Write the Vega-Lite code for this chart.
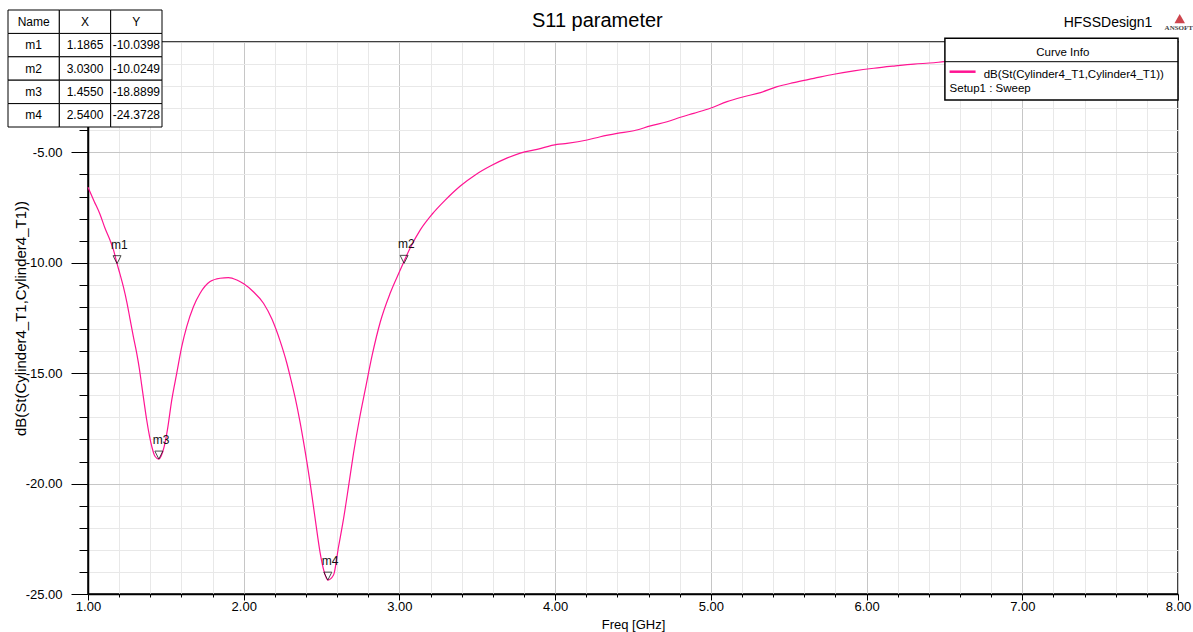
{
  "$schema": "https://vega.github.io/schema/vega-lite/v6.json",
  "width": 1090,
  "height": 552,
  "autosize": {"type": "none"},
  "padding": {"left": 88, "top": 42, "right": 15, "bottom": 38},
  "background": "white",
  "config": {
    "view": {"stroke": "black", "strokeWidth": 1.5},
    "font": "Liberation Sans",
    "text": {"font": "Liberation Sans", "color": "black"},
    "axis": {"labelOverlap": false, "labelFlush": false, "labelBound": false},
    "locale": {"number": {"decimal": ".", "thousands": ",", "grouping": [3], "currency": ["$", ""], "minus": "-"}}
  },
  "datasets": {
    "s11": [
      {"f": 1.0, "db": -6.58}, {"f": 1.04, "db": -7.22}, {"f": 1.077, "db": -7.8}, {"f": 1.11, "db": -8.45},
      {"f": 1.141, "db": -8.97}, {"f": 1.165, "db": -9.45}, {"f": 1.1865, "db": -10.04}, {"f": 1.205, "db": -10.5},
      {"f": 1.227, "db": -11.08}, {"f": 1.25, "db": -11.8}, {"f": 1.27, "db": -12.55}, {"f": 1.29, "db": -13.3},
      {"f": 1.313, "db": -14.1}, {"f": 1.33, "db": -14.8}, {"f": 1.345, "db": -15.55}, {"f": 1.36, "db": -16.3},
      {"f": 1.377, "db": -17.12}, {"f": 1.395, "db": -17.85}, {"f": 1.41, "db": -18.33}, {"f": 1.43, "db": -18.76},
      {"f": 1.455, "db": -18.89}, {"f": 1.47, "db": -18.75}, {"f": 1.49, "db": -18.3}, {"f": 1.51, "db": -17.57},
      {"f": 1.538, "db": -16.21}, {"f": 1.57, "db": -15.0}, {"f": 1.602, "db": -13.8}, {"f": 1.634, "db": -12.89},
      {"f": 1.677, "db": -11.99}, {"f": 1.72, "db": -11.38}, {"f": 1.784, "db": -10.85}, {"f": 1.848, "db": -10.7},
      {"f": 1.902, "db": -10.67}, {"f": 1.956, "db": -10.78}, {"f": 2.0, "db": -10.95}, {"f": 2.062, "db": -11.31},
      {"f": 2.127, "db": -11.83}, {"f": 2.181, "db": -12.55}, {"f": 2.234, "db": -13.55}, {"f": 2.277, "db": -14.55},
      {"f": 2.3, "db": -15.2}, {"f": 2.33, "db": -16.1}, {"f": 2.36, "db": -17.15}, {"f": 2.39, "db": -18.35},
      {"f": 2.425, "db": -19.9}, {"f": 2.46, "db": -21.65}, {"f": 2.49, "db": -23.1}, {"f": 2.515, "db": -23.95},
      {"f": 2.54, "db": -24.37}, {"f": 2.577, "db": -24.14}, {"f": 2.609, "db": -22.86}, {"f": 2.641, "db": -21.6},
      {"f": 2.673, "db": -20.14}, {"f": 2.705, "db": -18.63}, {"f": 2.742, "db": -17.12}, {"f": 2.78, "db": -15.76},
      {"f": 2.825, "db": -14.18}, {"f": 2.877, "db": -12.68}, {"f": 2.941, "db": -11.37}, {"f": 3.005, "db": -10.33},
      {"f": 3.069, "db": -9.33}, {"f": 3.134, "db": -8.51}, {"f": 3.211, "db": -7.79}, {"f": 3.294, "db": -7.16},
      {"f": 3.391, "db": -6.52}, {"f": 3.487, "db": -6.02}, {"f": 3.584, "db": -5.62}, {"f": 3.693, "db": -5.25},
      {"f": 3.776, "db": -5.03}, {"f": 3.884, "db": -4.86}, {"f": 4.012, "db": -4.64}, {"f": 4.076, "db": -4.59},
      {"f": 4.205, "db": -4.44}, {"f": 4.29, "db": -4.29}, {"f": 4.398, "db": -4.14}, {"f": 4.505, "db": -4.02},
      {"f": 4.612, "db": -3.8}, {"f": 4.719, "db": -3.61}, {"f": 4.805, "db": -3.41}, {"f": 4.89, "db": -3.23},
      {"f": 4.997, "db": -3.0}, {"f": 5.104, "db": -2.7}, {"f": 5.211, "db": -2.48}, {"f": 5.319, "db": -2.29},
      {"f": 5.426, "db": -2.02}, {"f": 5.533, "db": -1.84}, {"f": 5.662, "db": -1.65}, {"f": 5.79, "db": -1.46},
      {"f": 5.919, "db": -1.31}, {"f": 6.047, "db": -1.19}, {"f": 6.176, "db": -1.09}, {"f": 6.304, "db": -1.0},
      {"f": 6.433, "db": -0.94}, {"f": 6.497, "db": -0.89}, {"f": 6.75, "db": -0.82}, {"f": 7.0, "db": -0.76},
      {"f": 7.5, "db": -0.66}, {"f": 8.0, "db": -0.6}
    ],
    "markers": [
      {"Name": "m1", "X": 1.1865, "Y": -10.0398},
      {"Name": "m2", "X": 3.03, "Y": -10.0249},
      {"Name": "m3", "X": 1.455, "Y": -18.8899},
      {"Name": "m4", "X": 2.54, "Y": -24.3728}
    ],
    "tableHead": [{"col": "Name"}, {"col": "X"}, {"col": "Y"}]
  },
  "layer": [
    {
      "layer": [
        {
          "data": {"name": "s11"},
          "mark": {"type": "line", "color": "#ff1493", "strokeWidth": 1.2, "interpolate": "monotone"},
          "encoding": {
            "x": {
              "field": "f", "type": "quantitative",
              "scale": {"domain": [1, 8], "nice": false, "zero": false},
              "axis": {
                "title": "Freq [GHz]",
                "tickCount": 200,
                "values": [1, 1.2, 1.4, 1.6, 1.8, 2, 2.2, 2.4, 2.6, 2.8, 3, 3.2, 3.4, 3.6, 3.8, 4, 4.2, 4.4, 4.6, 4.8, 5, 5.2, 5.4, 5.6, 5.8, 6, 6.2, 6.4, 6.6, 6.8, 7, 7.2, 7.4, 7.6, 7.8, 8],
                "labelExpr": "abs(datum.value - round(datum.value)) < 0.001 ? format(datum.value, '.2f') : ''",
                "labelOverlap": false,
                "labelFlush": false,
                "grid": true,
                "gridColor": {"condition": {"test": "abs(datum.value - round(datum.value)) < 0.001", "value": "#c6c6c6"}, "value": "#e8e8e8"},
                "gridWidth": 1,
                "domainColor": "black",
                "domainWidth": 1.5,
                "tickColor": "black",
                "tickWidth": 1,
                "tickSize": {"condition": {"test": "abs(datum.value - round(datum.value)) < 0.001", "value": 6}, "value": 3},
                "labelFont": "Liberation Sans",
                "labelFontSize": 13,
                "labelColor": "black",
                "labelPadding": 0,
                "titleFont": "Liberation Sans",
                "titleFontSize": 13,
                "titleFontWeight": "normal",
                "titleColor": "black",
                "titlePadding": 5
              }
            },
            "y": {
              "field": "db", "type": "quantitative",
              "scale": {"domain": [-25, 0], "nice": false, "zero": false},
              "axis": {
                "title": "dB(St(Cylinder4_T1,Cylinder4_T1))",
                "tickCount": 200,
                "values": [-25, -24, -23, -22, -21, -20, -19, -18, -17, -16, -15, -14, -13, -12, -11, -10, -9, -8, -7, -6, -5, -4, -3, -2, -1, 0],
                "labelExpr": "datum.value < -0.5 && abs(datum.value / 5 - round(datum.value / 5)) < 0.001 ? format(datum.value, '.2f') : ''",
                "labelOverlap": false,
                "labelFlush": false,
                "grid": true,
                "gridColor": {"condition": {"test": "abs(datum.value / 5 - round(datum.value / 5)) < 0.001", "value": "#c6c6c6"}, "value": "#e8e8e8"},
                "gridWidth": 1,
                "domainColor": "black",
                "domainWidth": 1.5,
                "tickColor": "black",
                "tickWidth": 1,
                "tickSize": {"condition": {"test": "abs(datum.value / 5 - round(datum.value / 5)) < 0.001", "value": 17}, "value": 9},
                "labelFont": "Liberation Sans",
                "labelFontSize": 13,
                "labelColor": "black",
                "labelPadding": 9,
                "titleFont": "Liberation Sans",
                "titleFontSize": 15,
                "titleFontWeight": "normal",
                "titleColor": "black",
                "titlePadding": -3
              }
            }
          }
        },
        {
          "data": {"name": "markers"},
          "mark": {"type": "point", "shape": "M-0.5,-1L0.5,-1L0,0Z", "size": 256, "filled": false, "stroke": "black", "strokeWidth": 1},
          "encoding": {
            "x": {"field": "X", "type": "quantitative"},
            "y": {"field": "Y", "type": "quantitative"}
          }
        },
        {
          "data": {"name": "markers"},
          "mark": {"type": "text", "align": "left", "baseline": "alphabetic", "dx": -6, "dy": -15, "fontSize": 12, "color": "#111"},
          "encoding": {
            "x": {"field": "X", "type": "quantitative"},
            "y": {"field": "Y", "type": "quantitative"},
            "text": {"field": "Name"}
          }
        },
        {
          "data": {"values": [{}]},
          "mark": {"type": "rect", "fill": "white", "stroke": "black", "strokeWidth": 1.5},
          "encoding": {
            "x": {"datum": 6.503}, "x2": {"datum": 8.0},
            "y": {"datum": 0.168}, "y2": {"datum": -2.627}
          }
        },
        {
          "data": {"values": [{}]},
          "mark": {"type": "rule", "color": "black", "strokeWidth": 1},
          "encoding": {
            "x": {"datum": 6.503}, "x2": {"datum": 8.0},
            "y": {"datum": -0.892}
          }
        },
        {
          "data": {"values": [{}]},
          "mark": {"type": "rule", "color": "#ff1493", "strokeWidth": 2.5},
          "encoding": {
            "x": {"datum": 6.533}, "x2": {"datum": 6.7},
            "y": {"datum": -1.345}
          }
        },
        {
          "data": {"values": [{}]},
          "mark": {"type": "text", "text": "Curve Info", "align": "center", "baseline": "alphabetic", "fontSize": 11.5},
          "encoding": {"x": {"datum": 7.26}, "y": {"datum": -0.634}}
        },
        {
          "data": {"values": [{}]},
          "mark": {"type": "text", "text": "dB(St(Cylinder4_T1,Cylinder4_T1))", "align": "left", "baseline": "alphabetic", "fontSize": 11.5},
          "encoding": {"x": {"datum": 6.752}, "y": {"datum": -1.63}}
        },
        {
          "data": {"values": [{}]},
          "mark": {"type": "text", "text": "Setup1 : Sweep", "align": "left", "baseline": "alphabetic", "fontSize": 11.5},
          "encoding": {"x": {"datum": 6.533}, "y": {"datum": -2.264}}
        },
        {
          "data": {"values": [{}]},
          "mark": {"type": "text", "text": "S11 parameter", "align": "center", "baseline": "alphabetic", "fontSize": 20},
          "encoding": {"x": {"datum": 4.271}, "y": {"datum": 0.68}}
        },
        {
          "data": {"values": [{}]},
          "mark": {"type": "text", "text": "HFSSDesign1", "align": "left", "baseline": "alphabetic", "fontSize": 14},
          "encoding": {"x": {"datum": 7.266}, "y": {"datum": 0.693}}
        },
        {
          "data": {"values": [{}]},
          "mark": {"type": "point", "shape": "triangle-up", "size": 110, "filled": true, "color": "#c8313a", "opacity": 0.9},
          "encoding": {"x": {"datum": 8.011}, "y": {"datum": 1.06}}
        },
        {
          "data": {"values": [{}]},
          "mark": {"type": "text", "text": "ANSOFT", "align": "center", "baseline": "alphabetic", "fontSize": 7, "font": "Liberation Serif", "fontWeight": "bold", "color": "#444"},
          "encoding": {"x": {"datum": 8.005}, "y": {"datum": 0.543}}
        }
      ]
    },
    {
      "layer": [
        {
          "data": {"name": "markers"},
          "transform": [{"fold": ["Name", "X", "Y"], "as": ["col", "val"]}],
          "mark": {"type": "rect", "fill": "white", "stroke": "black", "strokeWidth": 1},
          "encoding": {
            "x": {"field": "col", "type": "nominal", "scale": {"type": "band", "domain": ["Name", "X", "Y"], "range": [-80, 74], "paddingInner": 0, "paddingOuter": 0}, "axis": null},
            "y": {"field": "Name", "type": "nominal", "scale": {"type": "band", "domain": ["head", "m1", "m2", "m3", "m4"], "range": [-32, 85], "paddingInner": 0, "paddingOuter": 0}, "axis": null}
          }
        },
        {
          "data": {"name": "tableHead"},
          "mark": {"type": "rect", "fill": "white", "stroke": "black", "strokeWidth": 1},
          "encoding": {
            "x": {"field": "col", "type": "nominal", "axis": null},
            "y": {"datum": "head", "type": "nominal", "axis": null}
          }
        },
        {
          "data": {"name": "tableHead"},
          "mark": {"type": "text", "align": "center", "baseline": "middle", "fontSize": 12},
          "encoding": {
            "x": {"field": "col", "type": "nominal", "axis": null},
            "y": {"datum": "head", "type": "nominal", "axis": null},
            "text": {"field": "col"}
          }
        },
        {
          "data": {"name": "markers"},
          "mark": {"type": "text", "align": "center", "baseline": "middle", "fontSize": 12},
          "encoding": {
            "x": {"datum": "Name", "type": "nominal", "axis": null},
            "y": {"field": "Name", "type": "nominal", "axis": null},
            "text": {"field": "Name"}
          }
        },
        {
          "data": {"name": "markers"},
          "mark": {"type": "text", "align": "center", "baseline": "middle", "fontSize": 12},
          "encoding": {
            "x": {"datum": "X", "type": "nominal", "axis": null},
            "y": {"field": "Name", "type": "nominal", "axis": null},
            "text": {"field": "X", "format": ".4f"}
          }
        },
        {
          "data": {"name": "markers"},
          "mark": {"type": "text", "align": "center", "baseline": "middle", "fontSize": 12},
          "encoding": {
            "x": {"datum": "Y", "type": "nominal", "axis": null},
            "y": {"field": "Name", "type": "nominal", "axis": null},
            "text": {"field": "Y", "format": ".4f"}
          }
        }
      ]
    }
  ],
  "resolve": {"scale": {"x": "independent", "y": "independent"}}
}
